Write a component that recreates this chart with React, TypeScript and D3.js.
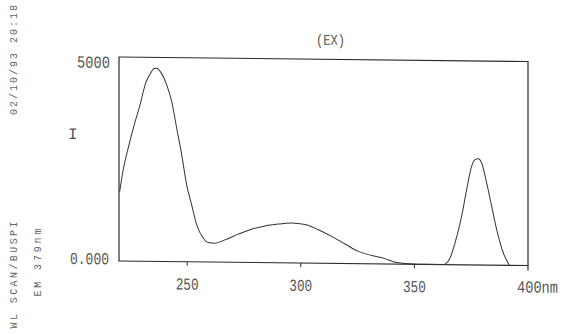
import React from "react";
import * as d3 from "d3";

// wavelength (nm) / intensity
const wavelengths = [
  220.3, 221.9, 224.1, 227.0, 229.2, 231.8, 233.6, 235.5, 236.6, 238.7,
  241.0, 243.2, 245.4, 247.6, 249.8, 252.0, 254.2, 257.1, 259.3, 262.2,
  266.6, 272.5, 278.4, 284.3, 290.1, 296.0, 301.9, 307.7, 313.6, 319.5,
  325.3, 331.2, 337.1, 340.7, 348.0, 355.0, 362.7, 365.7, 367.9, 370.8,
  373.0, 375.2, 376.7, 378.1, 379.6, 381.8, 384.0, 386.2, 389.1, 391.8,
];
const intensity = [
  1700, 2250, 2780, 3400, 3820, 4380, 4580, 4730, 4735, 4610,
  4330, 3920, 3270, 2620, 1880, 1390, 905, 580, 475, 462,
  546, 690, 816, 900, 947, 975, 945, 820, 660, 477,
  300, 205, 130, 58, 10, 0, 0, 165, 534, 1190,
  1845, 2420, 2580, 2600, 2500, 2015, 1445, 875, 305, 0,
];

const xTicks = [250, 300, 350];
const xEndLabel = "400nm";
const yTopLabel = "5000";
const yBottomLabel = "0.000";
const title = "(EX)";
const yAxisName = "I";
const sideDate = "02/10/93 20:18";
const sideScan = "WL SCAN/BUSPI";
const sideEm = "EM 379nm";

const W = 562, H = 334;
const left = 119, right = 528, top = 57, bottom = 261;
const skew = 0.011; // the scan is slightly tilted
const mono = "'Liberation Mono', 'DejaVu Sans Mono', monospace";
const ink = "#2a2a2a";

// narrow printer-style label: squeeze a monospace string to a given width
function Narrow({ x, y, w, fs = 17, anchor = "start", children }: any) {
  const s = String(children);
  const sx = w / (s.length * 0.6 * fs);
  const x0 = anchor === "middle" ? x - w / 2 : x;
  return (
    <text transform={`translate(${x0},${y}) scale(${sx},1)`} fontSize={fs}>
      {s}
    </text>
  );
}

export default function App() {
  const x = d3.scaleLinear().domain([220, 400]).range([left, right]);
  const y = d3.scaleLinear().domain([0, 5000]).range([bottom, top]);

  const pts: [number, number][] = wavelengths.map((w, i) => [w, intensity[i]]);
  const line = d3
    .line<[number, number]>()
    .x((d) => x(d[0]))
    .y((d) => y(d[1]))
    .curve(d3.curveMonotoneX);

  return (
    <svg
      width={W}
      height={H}
      style={{ position: "absolute", left: 0, top: 0, background: "#fff" }}
    >
      {/* side captions */}
      <g fontFamily={mono} fontSize={10} fill="#666">
        <text transform="translate(16.8,60) rotate(-90)" textAnchor="middle"
          textLength={110} lengthAdjust="spacing">{sideDate}</text>
        <text transform="translate(16.8,275) rotate(-90)" textAnchor="middle"
          textLength={107} lengthAdjust="spacing">{sideScan}</text>
        <text transform="translate(41,262.5) rotate(-90)" textAnchor="middle"
          textLength={68} lengthAdjust="spacing">{sideEm}</text>
      </g>

      <g transform={`matrix(1,${skew},0,1,0,${-skew * left})`}>
        <rect x={left} y={top} width={right - left} height={bottom - top}
          fill="none" stroke={ink} strokeWidth={1.2} />
        <line x1={right} x2={right} y1={bottom} y2={bottom + 5} stroke={ink} strokeWidth={1.2} />
        {xTicks.map((t) => (
          <line key={t} x1={x(t)} x2={x(t)} y1={bottom} y2={bottom + 4}
            stroke={ink} strokeWidth={1} />
        ))}

        <path d={line(pts) ?? ""} fill="none" stroke="#333" strokeWidth={1} />

        <g fontFamily={mono} fill="#555">
          {xTicks.map((t) => (
            <Narrow key={t} x={x(t)} y={289} w={23} anchor="middle">{t}</Narrow>
          ))}
          <Narrow x={517} y={288} w={41}>{xEndLabel}</Narrow>
          <Narrow x={77} y={68} w={33}>{yTopLabel}</Narrow>
          <Narrow x={70} y={264.5} w={39}>{yBottomLabel}</Narrow>
          <text x={72.7} y={139.5} textAnchor="middle" fontSize={16}>{yAxisName}</text>
          <Narrow x={316} y={42.5} w={29} fs={15}>{title}</Narrow>
        </g>
      </g>
    </svg>
  );
}
